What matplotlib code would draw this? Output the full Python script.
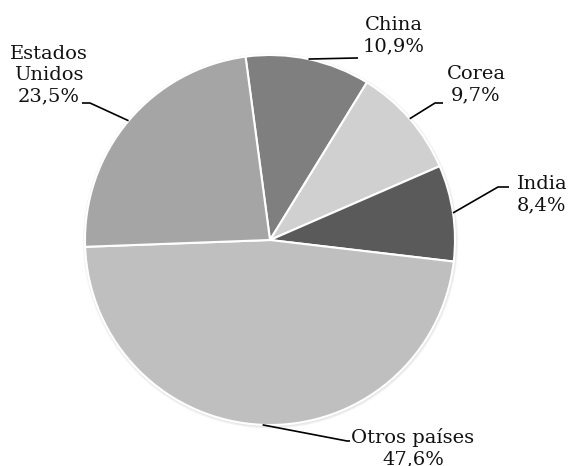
import numpy as np
import matplotlib
matplotlib.use("Agg")
import matplotlib.pyplot as plt
from matplotlib.patches import Circle

# ---- data ----
labels = ["China", "Corea", "India", "Otros países", "Estados\nUnidos"]
values = [10.9, 9.7, 8.4, 47.6, 23.5]
pct_labels = ["10,9%", "9,7%", "8,4%", "47,6%", "23,5%"]
colors = ["#7f7f7f", "#d0d0d0", "#5a5a5a", "#bfbfbf", "#a5a5a5"]

W, H = 573, 466
fig = plt.figure(figsize=(W / 100, H / 100), dpi=100)
ax = fig.add_axes([0, 0, 1, 1])

cx, cy, R = 270, H - 240, 185

# faint shadow
for i in range(3):
    ax.add_patch(Circle((cx + 0.5, cy - 1), R + 0.8 + i * 0.9, color="#000000",
                        alpha=0.035, lw=0, zorder=0))

wedges, _ = ax.pie(values, colors=colors, startangle=97.6, counterclock=False,
                   center=(cx, cy), radius=R,
                   wedgeprops=dict(edgecolor="white", linewidth=1.5))
for w in wedges:
    w.set_zorder(2)

# label layout (pixel coords, y from top): text centre, elbow, line end
layout = [
    dict(text=(394, 36), elbow=(356, 58), end=(358, 58)),
    dict(text=(476, 85), elbow=(435, 103), end=(443, 103)),
    dict(text=(542, 195), elbow=(498, 187), end=(509, 187)),
    dict(text=(413, 448), elbow=(347, 441), end=(350, 441)),
    dict(text=(49, 75), elbow=(90, 103), end=(82, 103)),
]

for w, lab, pct, lay in zip(wedges, labels, pct_labels, layout):
    ang = np.deg2rad((w.theta1 + w.theta2) / 2)
    ex, ey = cx + R * np.cos(ang), cy + R * np.sin(ang)
    bx, by = lay["elbow"]
    fx, fy = lay["end"]
    ax.plot([ex, bx, fx], [ey, H - by, H - fy], color="black", lw=1.2,
            zorder=3, solid_capstyle="butt")
    tx, ty = lay["text"]
    ax.text(tx, H - ty, lab + "\n" + pct, ha="center", va="center",
            fontsize=14, family="DejaVu Serif", color="#111111",
            linespacing=1.24, zorder=4)

ax.set_xlim(0, W)
ax.set_ylim(0, H)
ax.set_aspect("equal")
ax.axis("off")

fig.savefig("out.png", dpi=100, facecolor="white")
